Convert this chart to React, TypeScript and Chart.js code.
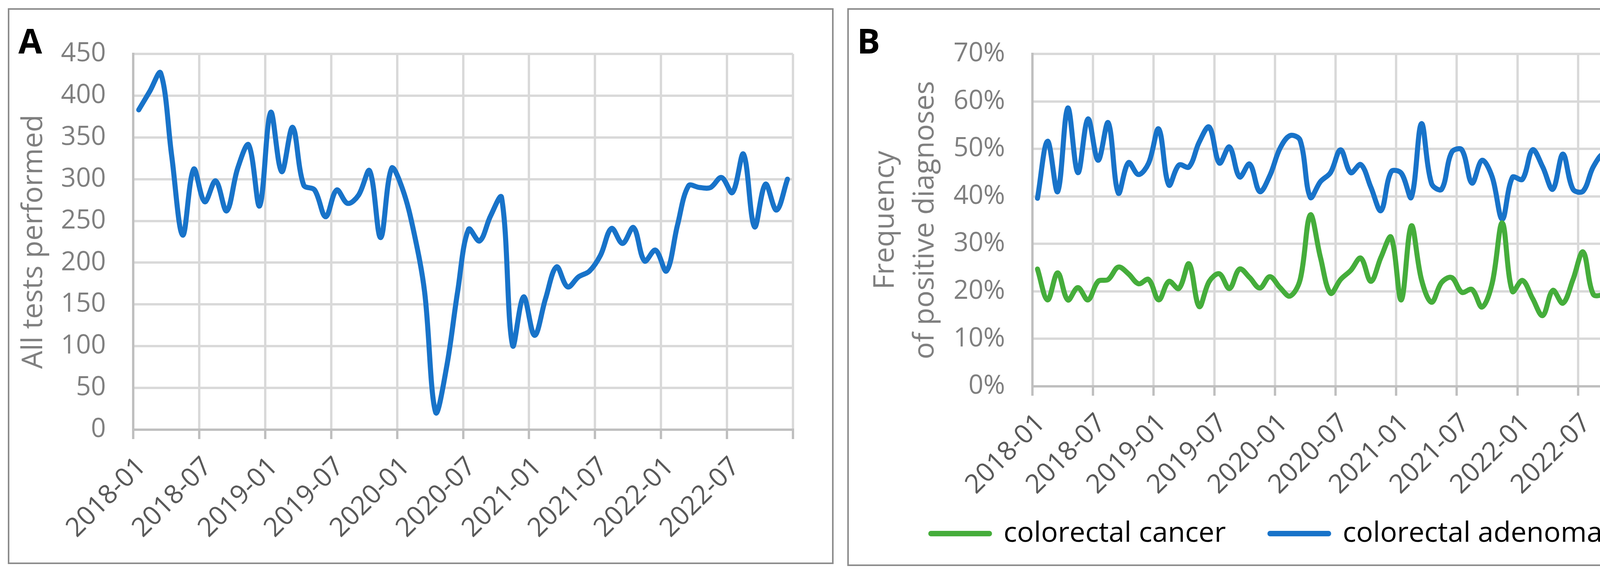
import React, { useEffect, useRef } from 'react';
import { Chart, registerables } from 'chart.js';

Chart.register(...registerables);

// ---------- data ----------
const MONTHS = [
  '2018-01', '2018-02', '2018-03', '2018-04', '2018-05', '2018-06', '2018-07', '2018-08', '2018-09', '2018-10', '2018-11', '2018-12',
  '2019-01', '2019-02', '2019-03', '2019-04', '2019-05', '2019-06', '2019-07', '2019-08', '2019-09', '2019-10', '2019-11', '2019-12',
  '2020-01', '2020-02', '2020-03', '2020-04', '2020-05', '2020-06', '2020-07', '2020-08', '2020-09', '2020-10', '2020-11', '2020-12',
  '2021-01', '2021-02', '2021-03', '2021-04', '2021-05', '2021-06', '2021-07', '2021-08', '2021-09', '2021-10', '2021-11', '2021-12',
  '2022-01', '2022-02', '2022-03', '2022-04', '2022-05', '2022-06', '2022-07', '2022-08', '2022-09', '2022-10', '2022-11', '2022-12',
];
const X_LABEL_STEP = 6;

const TESTS = [
  383, 405, 427, 328, 233, 312, 273, 298, 262, 313, 341, 268,
  380, 309, 362, 293, 287, 255, 287, 271, 281, 310, 230, 313,
  288, 238, 165, 21, 75, 165, 240, 226, 256, 278, 101, 159,
  113, 157, 195, 171, 183, 190, 209, 241, 223, 242, 202, 215,
  190, 245, 292, 290, 290, 302, 284, 330, 243, 294, 263, 300,
];
const TESTS_AXIS = [0, 450, 50];

const CANCER = [
  24.7, 18.2, 23.9, 18.2, 20.8, 18.2, 22.1, 22.5, 25.1, 23.7, 21.6, 22.5,
  18.2, 22.1, 20.6, 25.8, 16.8, 22.1, 23.7, 20.6, 24.7, 22.9, 20.7, 23.1,
  20.8, 19.0, 22.5, 36.1, 27.2, 19.6, 22.5, 24.4, 27.0, 22.1, 27.2, 31.4,
  18.2, 33.8, 22.5, 17.7, 21.9, 22.9, 19.8, 20.4, 16.7, 21.7, 34.4, 20.0,
  22.3, 18.5, 14.9, 20.2, 17.5, 22.5, 28.3, 19.4, 19.4, 21.3, 22.1, 29.5,
];
const ADENOMA = [
  39.6, 51.6, 41.0, 58.6, 45.0, 56.3, 47.6, 55.5, 40.7, 47.1, 44.6, 47.0,
  54.2, 42.4, 46.6, 46.2, 51.4, 54.6, 47.0, 50.4, 44.1, 46.8, 41.0, 44.4,
  50.1, 52.8, 51.8, 39.8, 43.1, 45.0, 49.8, 45.0, 46.7, 41.9, 37.0, 45.2,
  44.9, 39.8, 55.3, 42.7, 41.5, 49.3, 49.8, 42.8, 47.6, 44.1, 35.2, 44.0,
  43.6, 49.8, 46.2, 41.5, 48.9, 41.5, 41.1, 46.2, 48.7, 40.0, 43.8, 37.2,
];
const PCT_AXIS = [0, 70, 10];

const SERIES_NAMES = ['colorectal cancer', 'colorectal adenoma'];
const TITLE_A = 'All tests performed';
const TITLE_B = ['Frequency', 'of positive diagnoses'];

// ---------- styles ----------
const FONT = '"Open Sans", "Noto Sans", sans-serif';
const BLUE = '#1873C9';
const GREEN = '#45AD3B';
const GRID = '#D9D9D9';
const AXIS = '#BFBFBF';
const TICK_GRAY = '#7F7F7F';
const XTICK_GRAY = '#595959';
const LINE_W = 13;
const TENSION = 0.35;

function panelLetter(letter: string, x: number, y: number) {
  return {
    id: 'panelLetter' + letter,
    afterDraw(chart: any) {
      const ctx = chart.ctx;
      ctx.save();
      ctx.font = `bold 88px ${FONT}`;
      ctx.fillStyle = '#000000';
      ctx.textAlign = 'left';
      ctx.textBaseline = 'alphabetic';
      ctx.fillText(letter, x, y);
      ctx.restore();
    },
  };
}

function xScales(height: number) {
  return {
    x: { type: 'category', display: false, offset: true },
    xg: {
      type: 'linear',
      position: 'bottom',
      min: 0,
      max: MONTHS.length,
      ticks: {
        stepSize: X_LABEL_STEP,
        autoSkip: false,
        minRotation: 45,
        maxRotation: 45,
        padding: 31,
        labelOffset: 22,
        color: XTICK_GRAY,
        font: { family: FONT, size: 68 },
        callback: (v: number) => (v < MONTHS.length ? MONTHS[v] : ''),
      },
      grid: {
        color: (c: any) => (c.tick && c.tick.value === 0 ? 'rgba(0,0,0,0)' : GRID),
        lineWidth: 6,
        drawTicks: true,
        tickLength: 24,
        tickColor: AXIS,
        tickWidth: 6,
      },
      border: { color: AXIS, width: 6 },
      afterFit: (s: any) => {
        s.height = height;
        s.paddingLeft = 0;
        s.paddingRight = 0;
        // let the rotated labels run past the axis box (they overlap the legend band in the original)
        s._computeLabelArea = () => undefined;
      },
    },
  };
}

function yScale(range: number[], suffix: string, title: string | string[], titlePad: number, width: number) {
  return {
    type: 'linear',
    position: 'left',
    min: range[0],
    max: range[1],
    ticks: {
      stepSize: range[2],
      padding: 70,
      color: TICK_GRAY,
      font: { family: FONT, size: 67 },
      callback: (v: number) => `${v}${suffix}`,
    },
    grid: {
      color: (c: any) => (c.tick && c.tick.value === 0 ? 'rgba(0,0,0,0)' : GRID),
      lineWidth: 6,
      drawTicks: false,
    },
    border: { color: AXIS, width: 6 },
    title: {
      display: true,
      text: title,
      color: TICK_GRAY,
      font: { family: FONT, size: 73, lineHeight: 1.4 },
      padding: { top: titlePad, bottom: 0 },
    },
    afterFit: (s: any) => {
      s.width = width;
    },
  };
}

function lineDataset(label: string, data: number[], color: string) {
  return {
    label,
    data,
    xAxisID: 'x',
    yAxisID: 'y',
    borderColor: color,
    backgroundColor: color,
    borderWidth: LINE_W,
    tension: TENSION,
    pointRadius: 0,
    pointHoverRadius: 0,
    fill: false,
    borderJoinStyle: 'round',
    borderCapStyle: 'round',
  };
}

function buildA(): any {
  return {
    type: 'line',
    data: {
      labels: MONTHS,
      datasets: [lineDataset(TITLE_A, TESTS, BLUE)],
    },
    options: {
      animation: false,
      responsive: true,
      maintainAspectRatio: false,
      devicePixelRatio: 1,
      events: [],
      layout: { padding: { left: 0, top: 113, right: 100, bottom: 0 } },
      plugins: { legend: { display: false }, tooltip: { enabled: false }, title: { display: false } },
      scales: {
        ...xScales(340),
        y: yScale(TESTS_AXIS, '', TITLE_A, 12, 317),
      },
    },
    plugins: [panelLetter('A', 23, 112)],
  };
}

function buildB(): any {
  return {
    type: 'line',
    data: {
      labels: MONTHS,
      datasets: [
        lineDataset(SERIES_NAMES[0], CANCER, GREEN),
        lineDataset(SERIES_NAMES[1], ADENOMA, BLUE),
      ],
    },
    options: {
      animation: false,
      responsive: true,
      maintainAspectRatio: false,
      devicePixelRatio: 1,
      events: [],
      layout: { padding: { left: 0, top: 113, right: 0, bottom: 33 } },
      plugins: {
        tooltip: { enabled: false },
        title: { display: false },
        legend: {
          display: true,
          position: 'bottom',
          labels: {
            boxWidth: 150,
            boxHeight: 1,
            padding: 113,
            color: '#000000',
            font: { family: FONT, size: 72 },
          },
        },
      },
      scales: {
        ...xScales(228),
        y: yScale(PCT_AXIS, '%', TITLE_B, 43, 470),
        yr: {
          type: 'linear',
          position: 'right',
          display: true,
          min: 0,
          max: 1,
          grid: { display: false },
          ticks: { display: false },
          border: { display: false },
          afterFit: (s: any) => {
            s.width = 117;
          },
        },
      },
    },
    plugins: [panelLetter('B', 21, 112)],
  };
}

function ChartPanel(props: { left: number; top: number; width: number; height: number; build: () => any }) {
  const ref = useRef<HTMLCanvasElement>(null);
  useEffect(() => {
    const chart = new Chart(ref.current as HTMLCanvasElement, props.build());
    return () => chart.destroy();
  }, []);
  return (
    <div
      style={{
        position: 'absolute',
        left: props.left,
        top: props.top,
        width: props.width,
        height: props.height,
        border: '4px solid #8C8C8C',
        boxSizing: 'border-box',
        background: '#ffffff',
      }}
    >
      <div style={{ position: 'relative', width: props.width - 8, height: props.height - 8 }}>
        <canvas ref={ref} />
      </div>
    </div>
  );
}

export default function App() {
  return (
    <div>
      <ChartPanel left={20} top={21} width={2114} height={1423} build={buildA} />
      <ChartPanel left={2169} top={21} width={2147} height={1428} build={buildB} />
    </div>
  );
}
